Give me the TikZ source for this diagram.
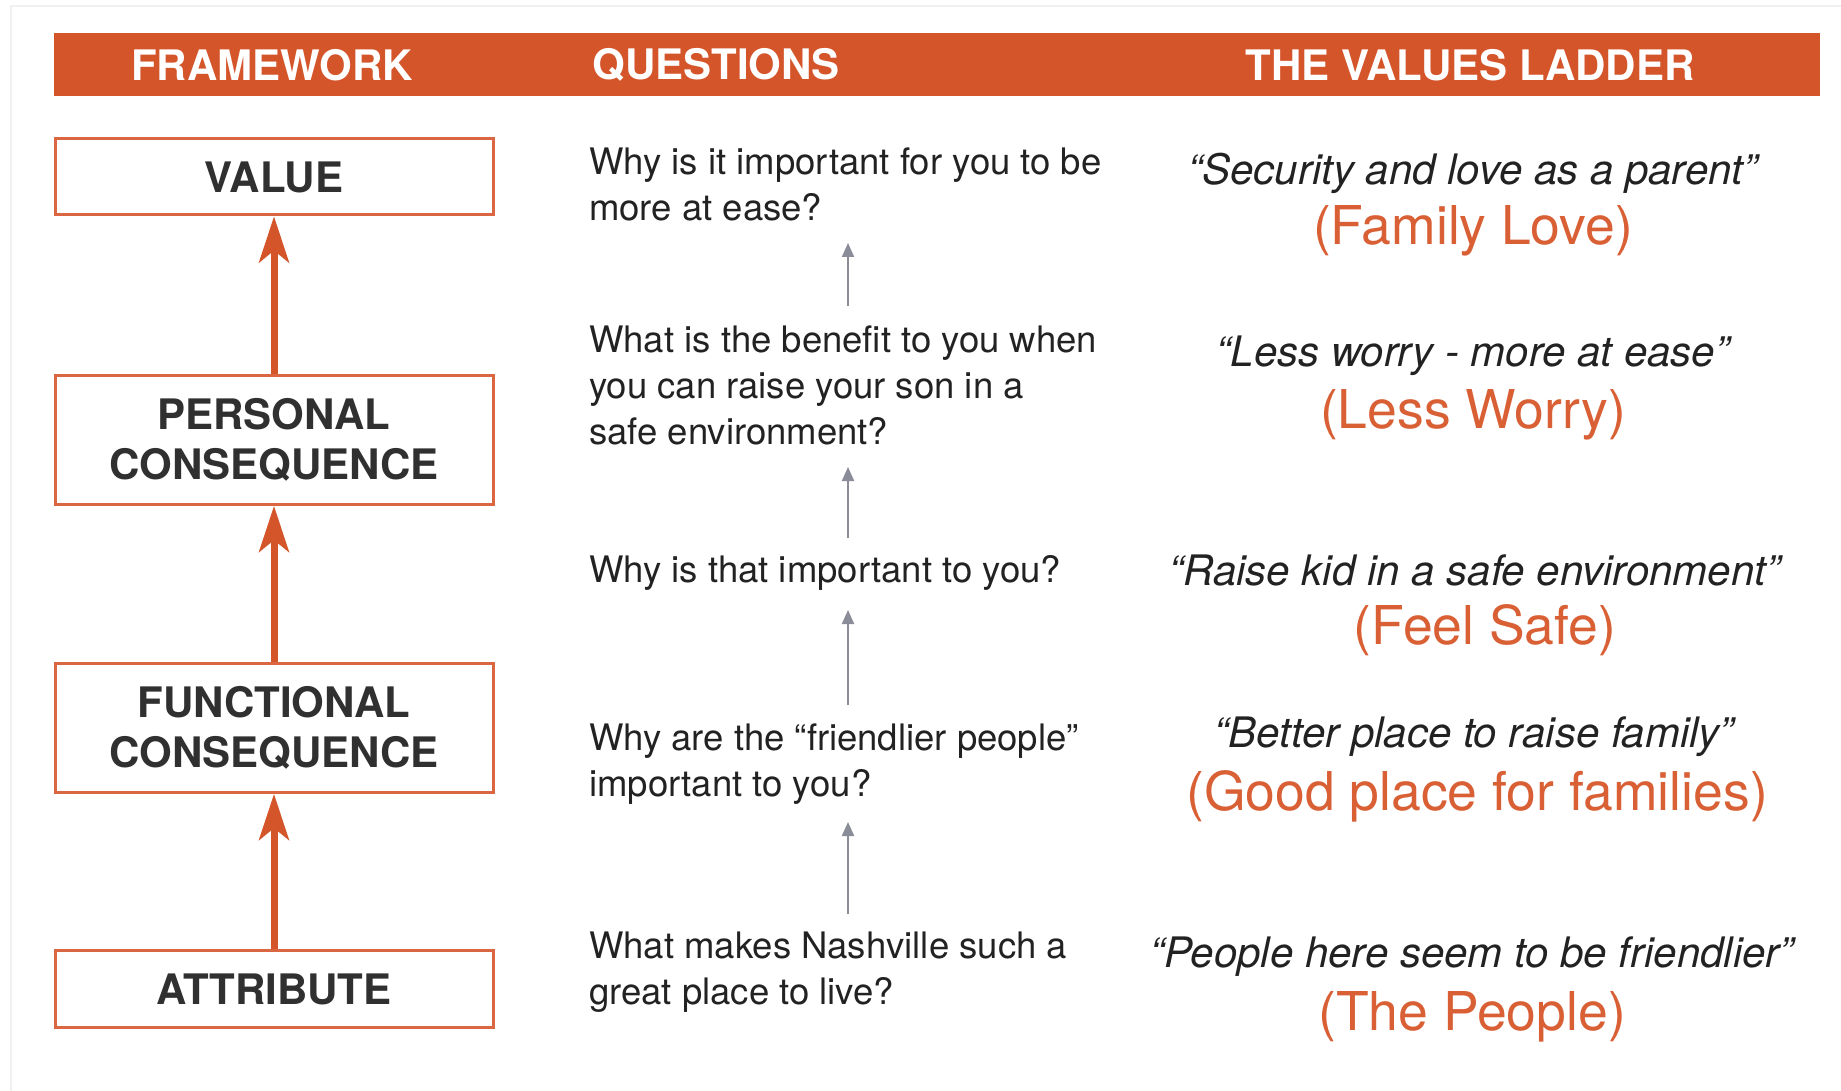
\documentclass[tikz,border=0pt]{standalone}
\usepackage{fontspec}
\setmainfont{TeX Gyre Heros}
\usetikzlibrary{arrows.meta}
\definecolor{hdr}{HTML}{D5552B}
\definecolor{boxc}{HTML}{DA6741}
\definecolor{ans}{HTML}{D95F35}
\definecolor{txt}{HTML}{222222}
\definecolor{lbl}{HTML}{303030}
\definecolor{garr}{HTML}{8A8D98}
\tikzset{
  hdrtext/.style={text=white,font=\fontsize{42}{46}\selectfont\bfseries},
  fwbox/.style={draw=boxc,line width=3pt,fill=white,minimum width=438pt,align=center,text=lbl,font=\fontsize{42}{50}\selectfont\bfseries,inner sep=0pt},
  qtext/.style={anchor=west,align=left,text=txt,font=\fontsize{36.5}{46}\selectfont,inner sep=0pt},
  quote/.style={text=txt,font=\fontsize{42}{46}\selectfont\itshape,inner sep=0pt},
  answer/.style={text=ans,font=\fontsize{53.5}{58}\selectfont,inner sep=0pt},
  bigarrow/.style={draw=hdr,line width=7pt,-{Stealth[length=46pt,width=30pt,inset=12pt]}},
  smallarrow/.style={draw=garr,line width=2pt,-{Triangle[length=14pt,width=12pt]}}
}
\begin{document}
\begin{tikzpicture}[x=1pt,y=-1pt]
\useasboundingbox (0,0) rectangle (1841,1091);
\fill[white] (0,0) rectangle (1841,1091);
\draw[gray!12,line width=1.5pt] (11,1091) -- (11,6) -- (1841,6);
% header
\fill[hdr] (54,33) rectangle (1820,96);
\node[hdrtext] (hfw) at (272,65) {FRAMEWORK};
\node[hdrtext,anchor=west] (hq) at (589,65) {QUESTIONS};
\node[hdrtext] (hvl) at (1470,65) {THE VALUES LADDER};
% framework boxes
\node[fwbox,minimum height=76pt] (value) at (274,177) {VALUE};
\node[fwbox,minimum height=129pt] (personal) at (274,440) {PERSONAL\\CONSEQUENCE};
\node[fwbox,minimum height=129pt] (functional) at (274,728) {FUNCTIONAL\\CONSEQUENCE};
\node[fwbox,minimum height=77pt] (attribute) at (274,989) {ATTRIBUTE};
\draw[bigarrow] (personal.north) -- (value.south);
\draw[bigarrow] (functional.north) -- (personal.south);
\draw[bigarrow] (attribute.north) -- (functional.south);
% questions
\node[qtext] (q1) at (589,184) {Why is it important for you to be\\more at ease?};
\node[qtext] (q2) at (589,385) {What is the benefit to you when\\you can raise your son in a\\safe environment?};
\node[qtext] (q3) at (589,573) {Why is that important to you?};
\node[qtext] (q4) at (589,764) {Why are the “friendlier people”\\important to you?};
\node[qtext] (q5) at (589,972) {What makes Nashville such a\\great place to live?};
\coordinate (a1s) at (848,306); \coordinate (a1e) at (848,243);
\coordinate (a2s) at (848,538); \coordinate (a2e) at (848,467);
\coordinate (a3s) at (848,705); \coordinate (a3e) at (848,610);
\coordinate (a4s) at (848,914); \coordinate (a4e) at (848,822);
\draw[smallarrow] (a1s) -- (a1e);
\draw[smallarrow] (a2s) -- (a2e);
\draw[smallarrow] (a3s) -- (a3e);
\draw[smallarrow] (a4s) -- (a4e);
% values ladder
\node[quote] (v1) at (1473,173) {“Security and love as a parent”};
\node[answer] (w1) at (1473,231) {(Family Love)};
\node[quote] (v2) at (1473,356) {“Less worry - more at ease”};
\node[answer] (w2) at (1473,415) {(Less Worry)};
\node[quote] (v3) at (1475,570) {“Raise kid in a safe environment”};
\node[answer] (w3) at (1485,630) {(Feel Safe)};
\node[quote] (v4) at (1474,737) {“Better place to raise family”};
\node[answer] (w4) at (1477,796) {(Good place for families)};
\node[quote] (v5) at (1472,957) {“People here seem to be friendlier”};
\node[answer] (w5) at (1472,1017) {(The People)};
\end{tikzpicture}
\end{document}
